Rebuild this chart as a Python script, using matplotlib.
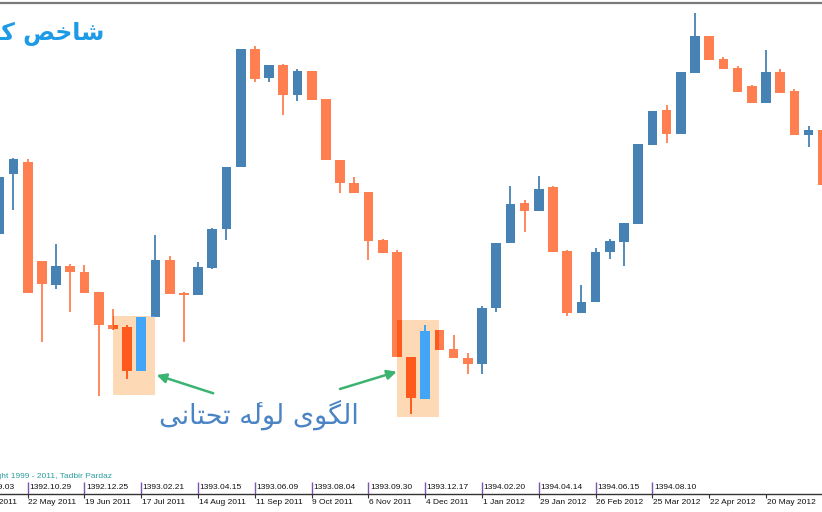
import matplotlib
matplotlib.use('Agg')
import matplotlib.pyplot as plt
from matplotlib.patches import Rectangle

# weekly candles, price in chart units
opens = [278, 338, 350, 251, 227, 246, 240, 220, 187, 185, 141, 195, 252, 219, 217, 244, 283, 345, 463, 434,
         447, 417, 441, 413, 352, 329, 320, 272, 260, 155, 113, 182, 163, 154, 148, 204, 269, 309, 301, 325,
         261, 199, 210, 260, 270, 288, 367, 402, 378, 439, 476, 453, 444, 426, 409, 440, 421, 377, 382]
closes = [335, 353, 219, 228, 246, 240, 219, 187, 183, 141, 195, 252, 218, 217, 245, 283, 345, 463, 433, 447,
          417, 441, 412, 352, 329, 319, 271, 259, 155, 114, 181, 162, 154, 148, 204, 269, 308, 301, 323, 260,
          199, 210, 260, 271, 289, 368, 401, 378, 440, 476, 452, 443, 420, 409, 440, 419, 377, 382, 327]
highs = [337, 354, 353, 251, 268, 248, 247, 220, 203, 187, 195, 277, 256, 220, 250, 284, 345, 463, 466, 447,
         448, 443, 441, 413, 352, 335, 320, 273, 262, 155, 187, 182, 177, 159, 206, 269, 326, 312, 336, 326,
         262, 227, 264, 273, 289, 368, 401, 407, 440, 499, 476, 455, 446, 427, 462, 443, 423, 386, 382]
lows = [276, 302, 219, 170, 223, 200, 219, 116, 182, 133, 141, 195, 218, 170, 217, 243, 272, 345, 430, 430,
        397, 411, 412, 352, 319, 319, 252, 259, 155, 98, 113, 162, 154, 138, 138, 200, 269, 280, 301, 260,
        196, 199, 210, 253, 246, 288, 367, 369, 378, 439, 452, 443, 420, 409, 409, 419, 377, 365, 327]

greg_pos = [-2, 2, 6, 10, 14, 18, 22, 26, 30, 34, 38, 42, 46, 50, 54]
greg_labels = ['24 Apr 2011', '22 May 2011', '19 Jun 2011', '17 Jul 2011', '14 Aug 2011', '11 Sep 2011',
               '9 Oct 2011', '6 Nov 2011', '4 Dec 2011', '1 Jan 2012', '29 Jan 2012', '26 Feb 2012',
               '25 Mar 2012', '22 Apr 2012', '20 May 2012']
jal_pos = [-2, 2, 6, 10, 14, 18, 22, 26, 30, 34, 38, 42, 46]
jal_labels = ['1392.09.03', '1392.10.29', '1392.12.25', '1393.02.21', '1393.04.15', '1393.06.09',
              '1393.08.04', '1393.09.30', '1393.12.17', '1394.02.20', '1394.04.14', '1394.06.15', '1394.08.10']

# hammer-like pattern boxes: (x from, x to, low, high)
boxes = [(7.98, 10.98, 117, 196), (28.0, 31.0, 95, 192)]

title = 'شاخص کل'
note = 'الگوی لوله\u0654 تحتانی'

# matplotlib has no arabic shaping -> pick presentation forms by hand
FORMS = {
    'ا': ('\uFE8D', '\uFE8E', None, None),
    'ل': ('\uFEDD', '\uFEDE', '\uFEDF', '\uFEE0'),
    'گ': ('\uFB92', '\uFB93', '\uFB94', '\uFB95'),
    'و': ('\uFEED', '\uFEEE', None, None),
    'ی': ('\uFBFC', '\uFBFD', '\uFBFE', '\uFBFF'),
    'ه': ('\uFEE9', '\uFEEA', '\uFEEB', '\uFEEC'),
    'ت': ('\uFE95', '\uFE96', '\uFE97', '\uFE98'),
    'ح': ('\uFEA1', '\uFEA2', '\uFEA3', '\uFEA4'),
    'ن': ('\uFEE5', '\uFEE6', '\uFEE7', '\uFEE8'),
    'ش': ('\uFEB5', '\uFEB6', '\uFEB7', '\uFEB8'),
    'خ': ('\uFEA5', '\uFEA6', '\uFEA7', '\uFEA8'),
    'ص': ('\uFEB9', '\uFEBA', '\uFEBB', '\uFEBC'),
    'ک': ('\uFB8E', '\uFB8F', '\uFB90', '\uFB91'),
}
MARKS = '\u064B\u064C\u064D\u064E\u064F\u0650\u0651\u0652\u0654\u0655'


def shape(txt):
    base = [c for c in txt if c not in MARKS]
    clusters = []
    for k, ch in enumerate(base):
        if ch not in FORMS:
            clusters.append(ch)
            continue
        iso, fin, ini, med = FORMS[ch]
        prev = base[k - 1] if k > 0 else ''
        nxt = base[k + 1] if k + 1 < len(base) else ''
        a = prev in FORMS and FORMS[prev][2] is not None
        b = nxt in FORMS and ini is not None
        if a and b:
            g = med
        elif a:
            g = fin
        elif b:
            g = ini
        else:
            g = iso
        clusters.append(g)
    # put marks back behind their letter
    j = -1
    for c in txt:
        if c in MARKS:
            clusters[j] = clusters[j] + c
        else:
            j += 1
    return ''.join(clusters[::-1])


BLUE = '#4682B4'
ORANGE = '#FF7F50'
RED = '#FF5A1E'
LBLUE = '#42A5F5'

fig = plt.figure(figsize=(8.22, 5.12), dpi=100)
ax = fig.add_axes([0, 18 / 512, 1, 491 / 512])
ax.set_xlim(0.05, 57.94)
ax.set_ylim(18, 509)

x = list(range(len(opens)))


def draw_candles(up_col, down_col, z, clip=None):
    arts = []
    for i in x:
        o, c, h, l = opens[i], closes[i], highs[i], lows[i]
        col = up_col if c > o else down_col
        ln = ax.vlines(i, l, h, color=col, lw=1.3, zorder=z)
        body = max(abs(c - o), 1.2)
        br = ax.bar(i, body, bottom=min(o, c), width=0.68, color=col, edgecolor='none', zorder=z)
        arts.append(ln)
        arts.extend(br.patches)
    if clip is not None:
        for a in arts:
            a.set_clip_path(clip)


draw_candles(BLUE, ORANGE, 2)

for x0, x1, y0, y1 in boxes:
    r = Rectangle((x0, y0), x1 - x0, y1 - y0, facecolor='#FDD9B6', edgecolor='none', zorder=1)
    ax.add_patch(r)
    clip = Rectangle((x0, y0), x1 - x0, y1 - y0, transform=ax.transData)
    draw_candles(LBLUE, RED, 3, clip=clip)

# arrows + caption
arr = dict(arrowstyle='-|>', color='#3CB371', lw=1.8, mutation_scale=14, shrinkA=0, shrinkB=0)
ax.annotate('', xy=(11.08, 137), xytext=(15.07, 118.7), arrowprops=arr, zorder=5)
ax.annotate('', xy=(27.99, 140.3), xytext=(23.99, 123), arrowprops=arr, zorder=5)
ax.text(18.29, 97, shape(note), ha='center', va='center', fontsize=19.5,
        color='#4A84C4', family='DejaVu Sans')

fig.text(104 / 822, 1 - 34 / 512, shape(title), ha='right', va='center', fontsize=17,
         weight='bold', color='#1E9BE6', family='DejaVu Sans')

# frame
for s in ['left', 'right']:
    ax.spines[s].set_visible(False)
ax.spines['top'].set_color('#7A7A7A')
ax.spines['top'].set_linewidth(1.6)
ax.spines['bottom'].set_color('#333333')
ax.spines['bottom'].set_linewidth(1)
ax.set_yticks([])
ax.set_xticks(greg_pos[1:])
ax.tick_params(axis='x', length=3, width=0.8, direction='out', color='#333333', labelbottom=False)

for p, lab in zip(greg_pos, greg_labels):
    ax.text(p + 0.05, 9, lab, ha='left', va='center', fontsize=6, family='Liberation Sans',
            color='#111111', clip_on=False)
for p, lab in zip(jal_pos, jal_labels):
    ax.text(p + 0.1, 24.5, lab, ha='left', va='center', fontsize=6, family='Liberation Sans',
            color='#111111', clip_on=False)
ax.vlines(jal_pos, 18, 30, color='#7A55B5', lw=1, zorder=4)

fig.text(112 / 822, 1 - 477 / 512, 'Copyright 1999 - 2011, Tadbir Pardaz', ha='right', va='center',
         fontsize=6, family='Liberation Sans', color='#2A9D9D')

fig.savefig('out.png', dpi=100)
